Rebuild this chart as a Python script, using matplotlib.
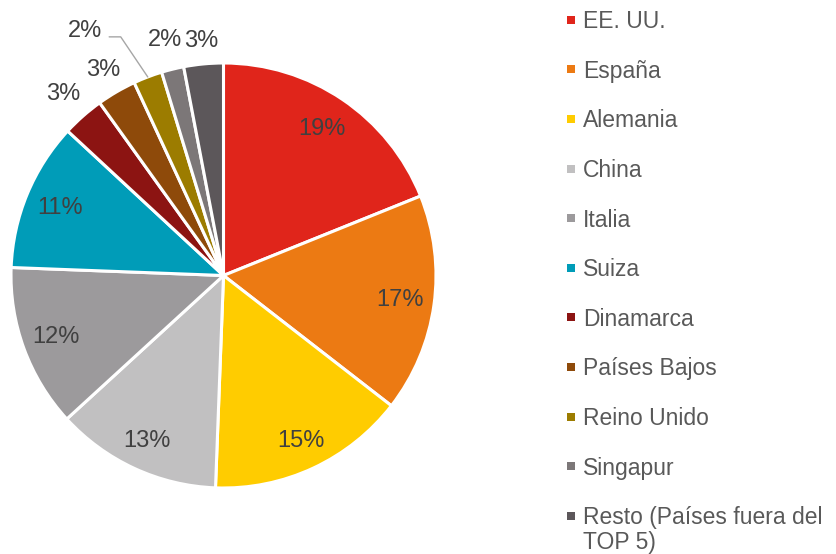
import numpy as np
import matplotlib.pyplot as plt
from matplotlib.patches import Rectangle

plt.rcParams['font.family'] = ['Liberation Sans', 'DejaVu Sans']

# data (shares in %)
paises = ['EE. UU.', 'España', 'Alemania', 'China', 'Italia', 'Suiza',
          'Dinamarca', 'Países Bajos', 'Reino Unido', 'Singapur',
          'Resto (Países fuera del\nTOP 5)']
cuota = [18.9, 16.6, 15.1, 12.6, 12.4, 11.3, 3.2, 3.0, 2.2, 1.7, 3.0]
colores = ['#E0251B', '#EC7A13', '#FFCC00', '#C1C0C1', '#9C9A9C', '#009CB8',
           '#8C1412', '#8E4A0A', '#9C7C00', '#7C7778', '#5C575A']

W, H = 836, 554
fig = plt.figure(figsize=(W / 100, H / 100), dpi=100)
ax = fig.add_axes([11 / W, (H - 488) / H, 425 / W, 425 / H])

wedges, _ = ax.pie(cuota, colors=colores, startangle=90, counterclock=False,
                   radius=1, wedgeprops=dict(edgecolor='white', linewidth=2.2))
ax.set_xlim(-1, 1)
ax.set_ylim(-1, 1)
ax.set_aspect('equal')
ax.axis('off')

txt_color = '#404040'
# label distance per slice (small slices get their label outside)
dist = [0.83, 0.84, 0.86, 0.86, 0.84, 0.83, 1.14, 1.12, None, 1.14, 1.11]
for w, v, d in zip(wedges, cuota, dist):
    ang = np.deg2rad((w.theta1 + w.theta2) / 2)
    lab = f'{round(v)}%'
    if d is None:
        # Reino Unido: label with a leader line
        ax.text(-0.571, 1.151, lab, ha='right', va='center', fontsize=17,
                color=txt_color, clip_on=False)
        ax.annotate('', xy=(np.cos(ang), np.sin(ang)), xytext=(-0.538, 1.123),
                    annotation_clip=False,
                    arrowprops=dict(arrowstyle='-', color='#A6A6A6', lw=1,
                                    shrinkA=0, shrinkB=0,
                                    connectionstyle='angle,angleA=0,angleB=124,rad=0'))
        continue
    ax.text(d * np.cos(ang), d * np.sin(ang), lab, ha='center', va='center',
            fontsize=17, color=txt_color, clip_on=False)

# legend drawn by hand so the two-line entry lines up with its first line
y0, paso, linea = 28.3, 49.6, 25
for i, (nombre, c) in enumerate(zip(paises, colores)):
    base = y0 + i * paso
    fig.add_artist(Rectangle((567 / W, 1 - (base - 4.5) / H), 8 / W, 8 / H,
                             transform=fig.transFigure, facecolor=c,
                             edgecolor='none'))
    # va='baseline' anchors the last line of a multi-line text
    ult = base + nombre.count('\n') * linea
    fig.text(583 / W, 1 - ult / H, nombre, ha='left', va='baseline',
             fontsize=16.5, color='#595959', linespacing=1.1)

fig.savefig('out.png', dpi=100)
